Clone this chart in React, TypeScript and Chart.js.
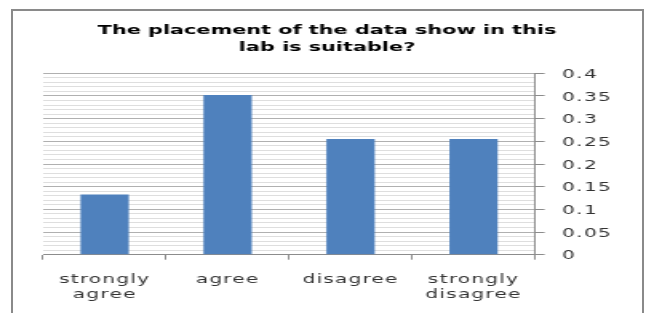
import React, { useEffect, useRef } from 'react';
import { Chart, registerables } from 'chart.js';

Chart.register(...registerables);

// ---- data ----
const titleLines = ['The placement of the data show in this', 'lab is suitable?'];
const categories: (string | string[])[] = [['strongly', 'agree'], 'agree', 'disagree', ['strongly', 'disagree']];
const values = [0.133, 0.352, 0.255, 0.255];
const yTickLabels = ['0', '0.05', '0.1', '0.15', '0.2', '0.25', '0.3', '0.35', '0.4'];
const yMin = 0;
const yMax = 0.4;
const yStep = 0.05;
const yMinorStep = 0.01;

// internal canvas width; the picture is stretched horizontally to 646px
const W = 404;
const H = 313;
const S = 646 / W;

export default function App() {
  const ref = useRef<HTMLCanvasElement>(null);

  useEffect(() => {
    const canvas = ref.current;
    if (!canvas) return;
    const LS = '0.8px';
    const spacing = {
      id: 'spacing',
      beforeUpdate(chart: any) {
        chart.ctx.letterSpacing = LS;
      },
      beforeDraw(chart: any) {
        chart.ctx.letterSpacing = LS;
        const tb = chart.titleBlock;
        if (tb && !tb.__wrapped) {
          const orig = tb.draw.bind(tb);
          tb.draw = (area: any) => {
            const c = chart.ctx;
            const prev = c.letterSpacing;
            c.letterSpacing = '0px';
            orig(area);
            c.letterSpacing = prev;
          };
          tb.__wrapped = true;
        }
      },
    };

    const tickFont = { family: 'DejaVu Sans', size: 12.5, lineHeight: 1.2 };

    const chart = new Chart(canvas, {
      type: 'bar',
      data: {
        labels: categories,
        datasets: [
          {
            data: values,
            yAxisID: 'y',
            backgroundColor: '#4f81bd',
            borderWidth: 0,
            barPercentage: 0.393,
            categoryPercentage: 1,
          },
        ],
      },
      plugins: [spacing],
      options: {
        responsive: false,
        devicePixelRatio: 1,
        animation: false,
        layout: { padding: { left: 10, right: 5, top: 22.6, bottom: 0 } },
        plugins: {
          legend: { display: false },
          tooltip: { enabled: false },
          title: {
            display: true,
            text: titleLines,
            color: '#000',
            font: { family: 'DejaVu Sans', size: 13, weight: 'bold', lineHeight: 17 / 13 },
            padding: { top: 0, bottom: 16.7 },
          },
        },
        scales: {
          yMinor: {
            type: 'linear',
            position: 'left',
            min: yMin,
            max: yMax,
            ticks: { display: false, stepSize: yMinorStep, maxTicksLimit: 100 },
            grid: { color: '#dedede', drawTicks: false, lineWidth: 1 },
            border: { display: false },
            afterFit: (scale: any) => {
              scale.width = 17;
            },
          },
          x: {
            type: 'category',
            offset: true,
            grid: {
              display: true,
              offset: true,
              drawOnChartArea: false,
              drawTicks: true,
              tickLength: 5,
              tickColor: '#8c8c8c',
              color: '#8c8c8c',
            },
            border: { display: true, color: '#8c8c8c', width: 1 },
            ticks: {
              color: '#333',
              font: tickFont,
              padding: 12.8,
              maxRotation: 0,
              minRotation: 0,
              autoSkip: false,
            },
            afterFit: (scale: any) => {
              scale.height = H - 254.7;
            },
          },
          y: {
            type: 'linear',
            position: 'right',
            min: yMin,
            max: yMax,
            grid: { color: '#b0b0b0', drawTicks: true, tickLength: 6, tickColor: '#8c8c8c' },
            border: { display: true, color: '#8c8c8c', width: 1 },
            ticks: {
              stepSize: yStep,
              maxTicksLimit: 20,
              color: '#333',
              font: tickFont,
              padding: 11,
              labelOffset: 1.5,
              callback: (value: any, index: number) => yTickLabels[index] ?? String(value),
            },
            afterFit: (scale: any) => {
              scale.width = W - 5 - 334.6;
            },
          },
        },
      },
    } as any);

    return () => chart.destroy();
  }, []);

  return (
    <div
      style={{
        position: 'fixed',
        left: 0,
        top: 0,
        width: 646,
        height: 313,
        overflow: 'hidden',
        background: '#fff',
      }}
    >
      <div
        style={{
          position: 'absolute',
          left: 11,
          top: 9,
          width: 633,
          height: 400,
          boxSizing: 'border-box',
          border: '2px solid #8a8a8a',
        }}
      />
      <div
        style={{
          position: 'absolute',
          left: 0,
          top: 0,
          width: W,
          height: H,
          transform: `scaleX(${S})`,
          transformOrigin: '0 0',
        }}
      >
        <canvas ref={ref} width={W} height={H} style={{ display: 'block' }} />
      </div>
    </div>
  );
}
